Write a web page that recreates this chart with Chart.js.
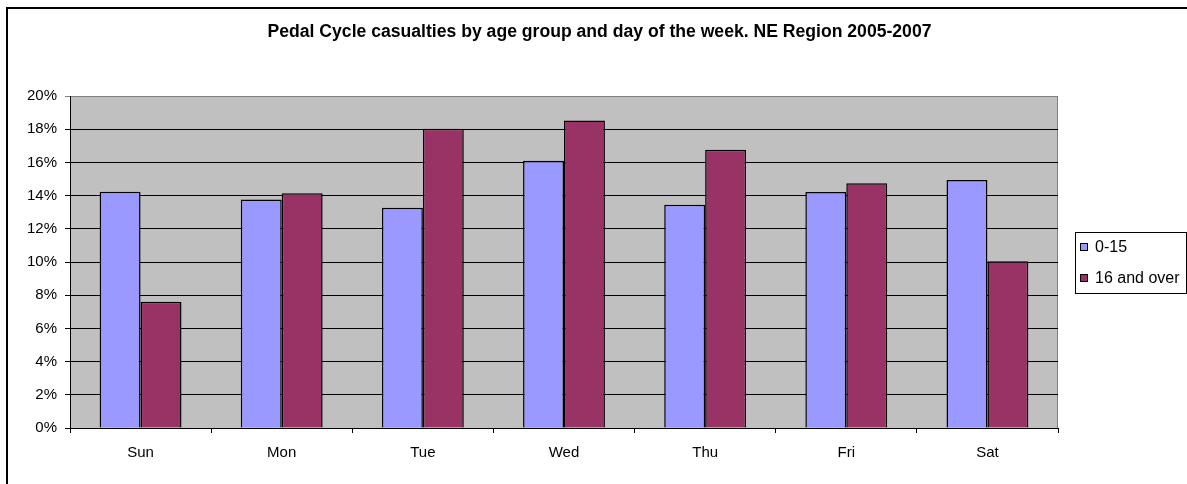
<!DOCTYPE html>
<html>
<head>
<meta charset="utf-8">
<script src="https://cdn.jsdelivr.net/npm/chart.js@4"></script>
<style>
  html, body { margin: 0; padding: 0; background: #fff; overflow: hidden; }
  #frame { position: absolute; left: 6px; top: 7px; width: 1400px; height: 700px; border-left: 2px solid #000; border-top: 2px solid #000; }
  #wrap { position: absolute; left: 0; top: 0; width: 1187px; height: 484px; }
</style>
</head>
<body>
<div id="frame"></div>
<div id="wrap"><canvas id="cycleChart"></canvas></div>
<script>
// data (percent of casualties)
const days = ["Sun", "Mon", "Tue", "Wed", "Thu", "Fri", "Sat"];
const age0to15 = [14.23, 13.77, 13.27, 16.1, 13.45, 14.22, 14.94];
const age16plus = [7.61, 14.14, 18.03, 18.53, 16.77, 14.74, 10.04];
const seriesNames = ["0-15", "16 and over"];
const titleText = "Pedal Cycle casualties by age group and day of the week. NE Region 2005-2007";

const fontFamily = "Arial, 'Liberation Sans', sans-serif";

// grey plot background with the lighter top/right edges
const plotBackground = {
  id: "plotBackground",
  beforeDraw(chart) {
    const a = chart.chartArea;
    const c = chart.ctx;
    c.save();
    c.fillStyle = "#c0c0c0";
    c.fillRect(a.left, a.top, a.right - a.left, a.bottom - a.top);
    c.strokeStyle = "#808080";
    c.lineWidth = 1;
    c.beginPath();
    c.moveTo(a.left, a.top + 0.5);
    c.lineTo(a.right - 0.5, a.top + 0.5);
    c.lineTo(a.right - 0.5, a.bottom);
    c.stroke();
    c.restore();
  }
};

// centre the title over the whole canvas, not just the plot + axes
const titleAcross = {
  id: "titleAcross",
  afterLayout(chart) {
    const t = chart.titleBlock;
    if (t) {
      t.left = 0;
      t.right = chart.width + 12;
      t.width = t.right - t.left;
    }
  }
};

// boxed legend on the right, like the spreadsheet one
const boxLegend = {
  id: "boxLegend",
  afterDraw(chart) {
    const a = chart.chartArea;
    const c = chart.ctx;
    const x = a.right + 17;
    const w = 111;
    const h = 61;
    const y = Math.round((a.top + a.bottom) / 2 - h / 2);
    c.save();
    c.fillStyle = "#fff";
    c.fillRect(x, y, w, h);
    c.strokeStyle = "#000";
    c.lineWidth = 1;
    c.strokeRect(x + 0.5, y + 0.5, w, h);
    c.font = "16px " + fontFamily;
    c.textBaseline = "middle";
    chart.data.datasets.forEach((ds, i) => {
      const cy = y + 15 + i * 31;
      c.fillStyle = ds.backgroundColor;
      c.fillRect(x + 5, cy - 4, 8, 8);
      c.strokeStyle = "#000";
      c.strokeRect(x + 5.5, cy - 3.5, 7, 7);
      c.fillStyle = "#000";
      c.fillText(ds.label, x + 20, cy + 1);
    });
    c.restore();
  }
};

const config = {
  type: "bar",
  data: {
    labels: days,
    datasets: [
      {
        label: seriesNames[0],
        data: age0to15,
        backgroundColor: "#9999ff",
        borderColor: "#000",
        borderWidth: 1.5,
      },
      {
        label: seriesNames[1],
        data: age16plus,
        backgroundColor: "#993366",
        borderColor: "#000",
        borderWidth: 1.5,
      },
    ],
  },
  options: {
    responsive: true,
    maintainAspectRatio: false,
    animation: false,
    categoryPercentage: 0.58,
    barPercentage: 1,
    layout: { padding: { left: 0, right: 129, top: 0, bottom: 0 } },
    plugins: {
      legend: { display: false },
      tooltip: { enabled: false },
      title: {
        display: true,
        text: titleText,
        color: "#000",
        font: { family: fontFamily, size: 17.6, weight: "bold" },
        padding: { top: 22, bottom: 52.9 },
      },
    },
    scales: {
      x: {
        grid: {
          offset: true,
          drawOnChartArea: false,
          drawTicks: true,
          tickLength: 5,
          color: "#000",
        },
        border: { color: "#000" },
        ticks: {
          color: "#000",
          padding: 11,
          font: { family: fontFamily, size: 15 },
        },
        afterFit(scale) {
          scale.height = 56;
        },
      },
      y: {
        min: 0,
        max: 20,
        grid: {
          color: (ctx) => (ctx.tick && ctx.tick.value === 20 ? "#808080" : "#000"),
          tickLength: 5,
        },
        border: { color: "#000" },
        ticks: {
          stepSize: 2,
          color: "#000",
          padding: 8,
          font: { family: fontFamily, size: 15 },
          callback: (v) => v + "%",
        },
        afterFit(scale) {
          scale.width = 70;
        },
      },
    },
  },
  plugins: [plotBackground, titleAcross, boxLegend],
};

window.onload = function () {
  const ctx = document.getElementById("cycleChart").getContext("2d");
  window.cycleChart = new Chart(ctx, config);
};
</script>
</body>
</html>
